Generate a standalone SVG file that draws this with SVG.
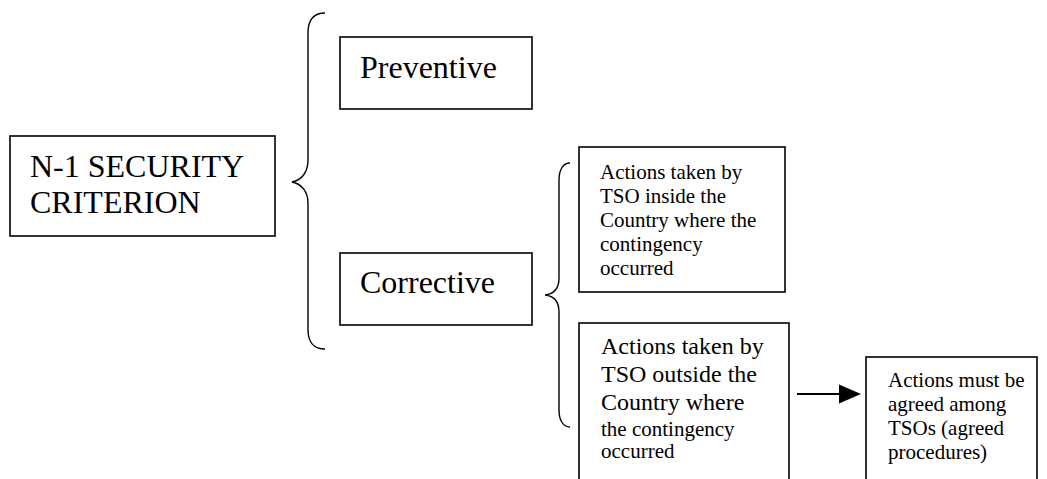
<svg xmlns="http://www.w3.org/2000/svg" width="1047" height="479" viewBox="0 0 1047 479">
<style>
.box{fill:#fff;stroke:#000;stroke-width:1.6}
.brace{fill:none;stroke:#000;stroke-width:1.4}
text{font-family:"Liberation Serif","Times New Roman",serif;fill:#000}
.big{font-size:32px}
.sm{font-size:21px}
.md{font-size:24px}
</style>
<defs>
<marker id="arr" markerWidth="10" markerHeight="10" refX="10" refY="5" orient="auto" markerUnits="userSpaceOnUse">
<path d="M0,0 L10,5 L0,10 Z" fill="#000"/>
</marker>
</defs>
<rect width="1047" height="479" fill="#fff"/>
<g id="connectors">
<path class="brace" d="M325,13 C314,13 308,20 308,33 L308,160 C308,172 302,180 292,182 C302,184 308,192 308,203 L308,330 C308,342 314,349 325,349"/>
<path class="brace" d="M570,163 C563,163 559,170 559,180 L559,278 C559,288 554,294 545,295 C554,296 559,302 559,312 L559,410 C559,420 563,427 570,427"/>
<line x1="797" y1="394" x2="840" y2="394" stroke="#000" stroke-width="2"/>
<path d="M839,384.5 L861,394 L839,403.5 Z" fill="#000"/>
</g>
<g id="n1">
<rect class="box" x="10" y="136" width="265" height="100"/>
<text class="big" x="30" y="177">N-1 SECURITY</text>
<text class="big" x="30" y="213">CRITERION</text>
</g>
<g id="preventive">
<rect class="box" x="340" y="37" width="192" height="72"/>
<text class="big" x="360" y="78">Preventive</text>
</g>
<g id="corrective">
<rect class="box" x="340" y="253" width="192" height="72"/>
<text class="big" x="360" y="293">Corrective</text>
</g>
<g id="inside">
<rect class="box" x="579" y="147" width="206" height="145"/>
<text class="sm" x="600" y="179">Actions taken by</text>
<text class="sm" x="600" y="203">TSO inside the</text>
<text class="sm" x="600" y="227">Country where the</text>
<text class="sm" x="600" y="251">contingency</text>
<text class="sm" x="600" y="275">occurred</text>
</g>
<g id="outside">
<rect class="box" x="579" y="323" width="210" height="170"/>
<text class="md" x="601" y="354">Actions taken by</text>
<text class="md" x="601" y="382">TSO outside the</text>
<text class="md" x="601" y="410">Country where</text>
<text class="sm" x="601" y="436">the contingency</text>
<text class="sm" x="601" y="458">occurred</text>
</g>
<g id="agreed">
<rect class="box" x="866" y="357" width="171" height="140"/>
<text class="sm" x="888" y="387">Actions must be</text>
<text class="sm" x="888" y="411">agreed among</text>
<text class="sm" x="888" y="435">TSOs (agreed</text>
<text class="sm" x="888" y="459">procedures)</text>
</g>
</svg>
